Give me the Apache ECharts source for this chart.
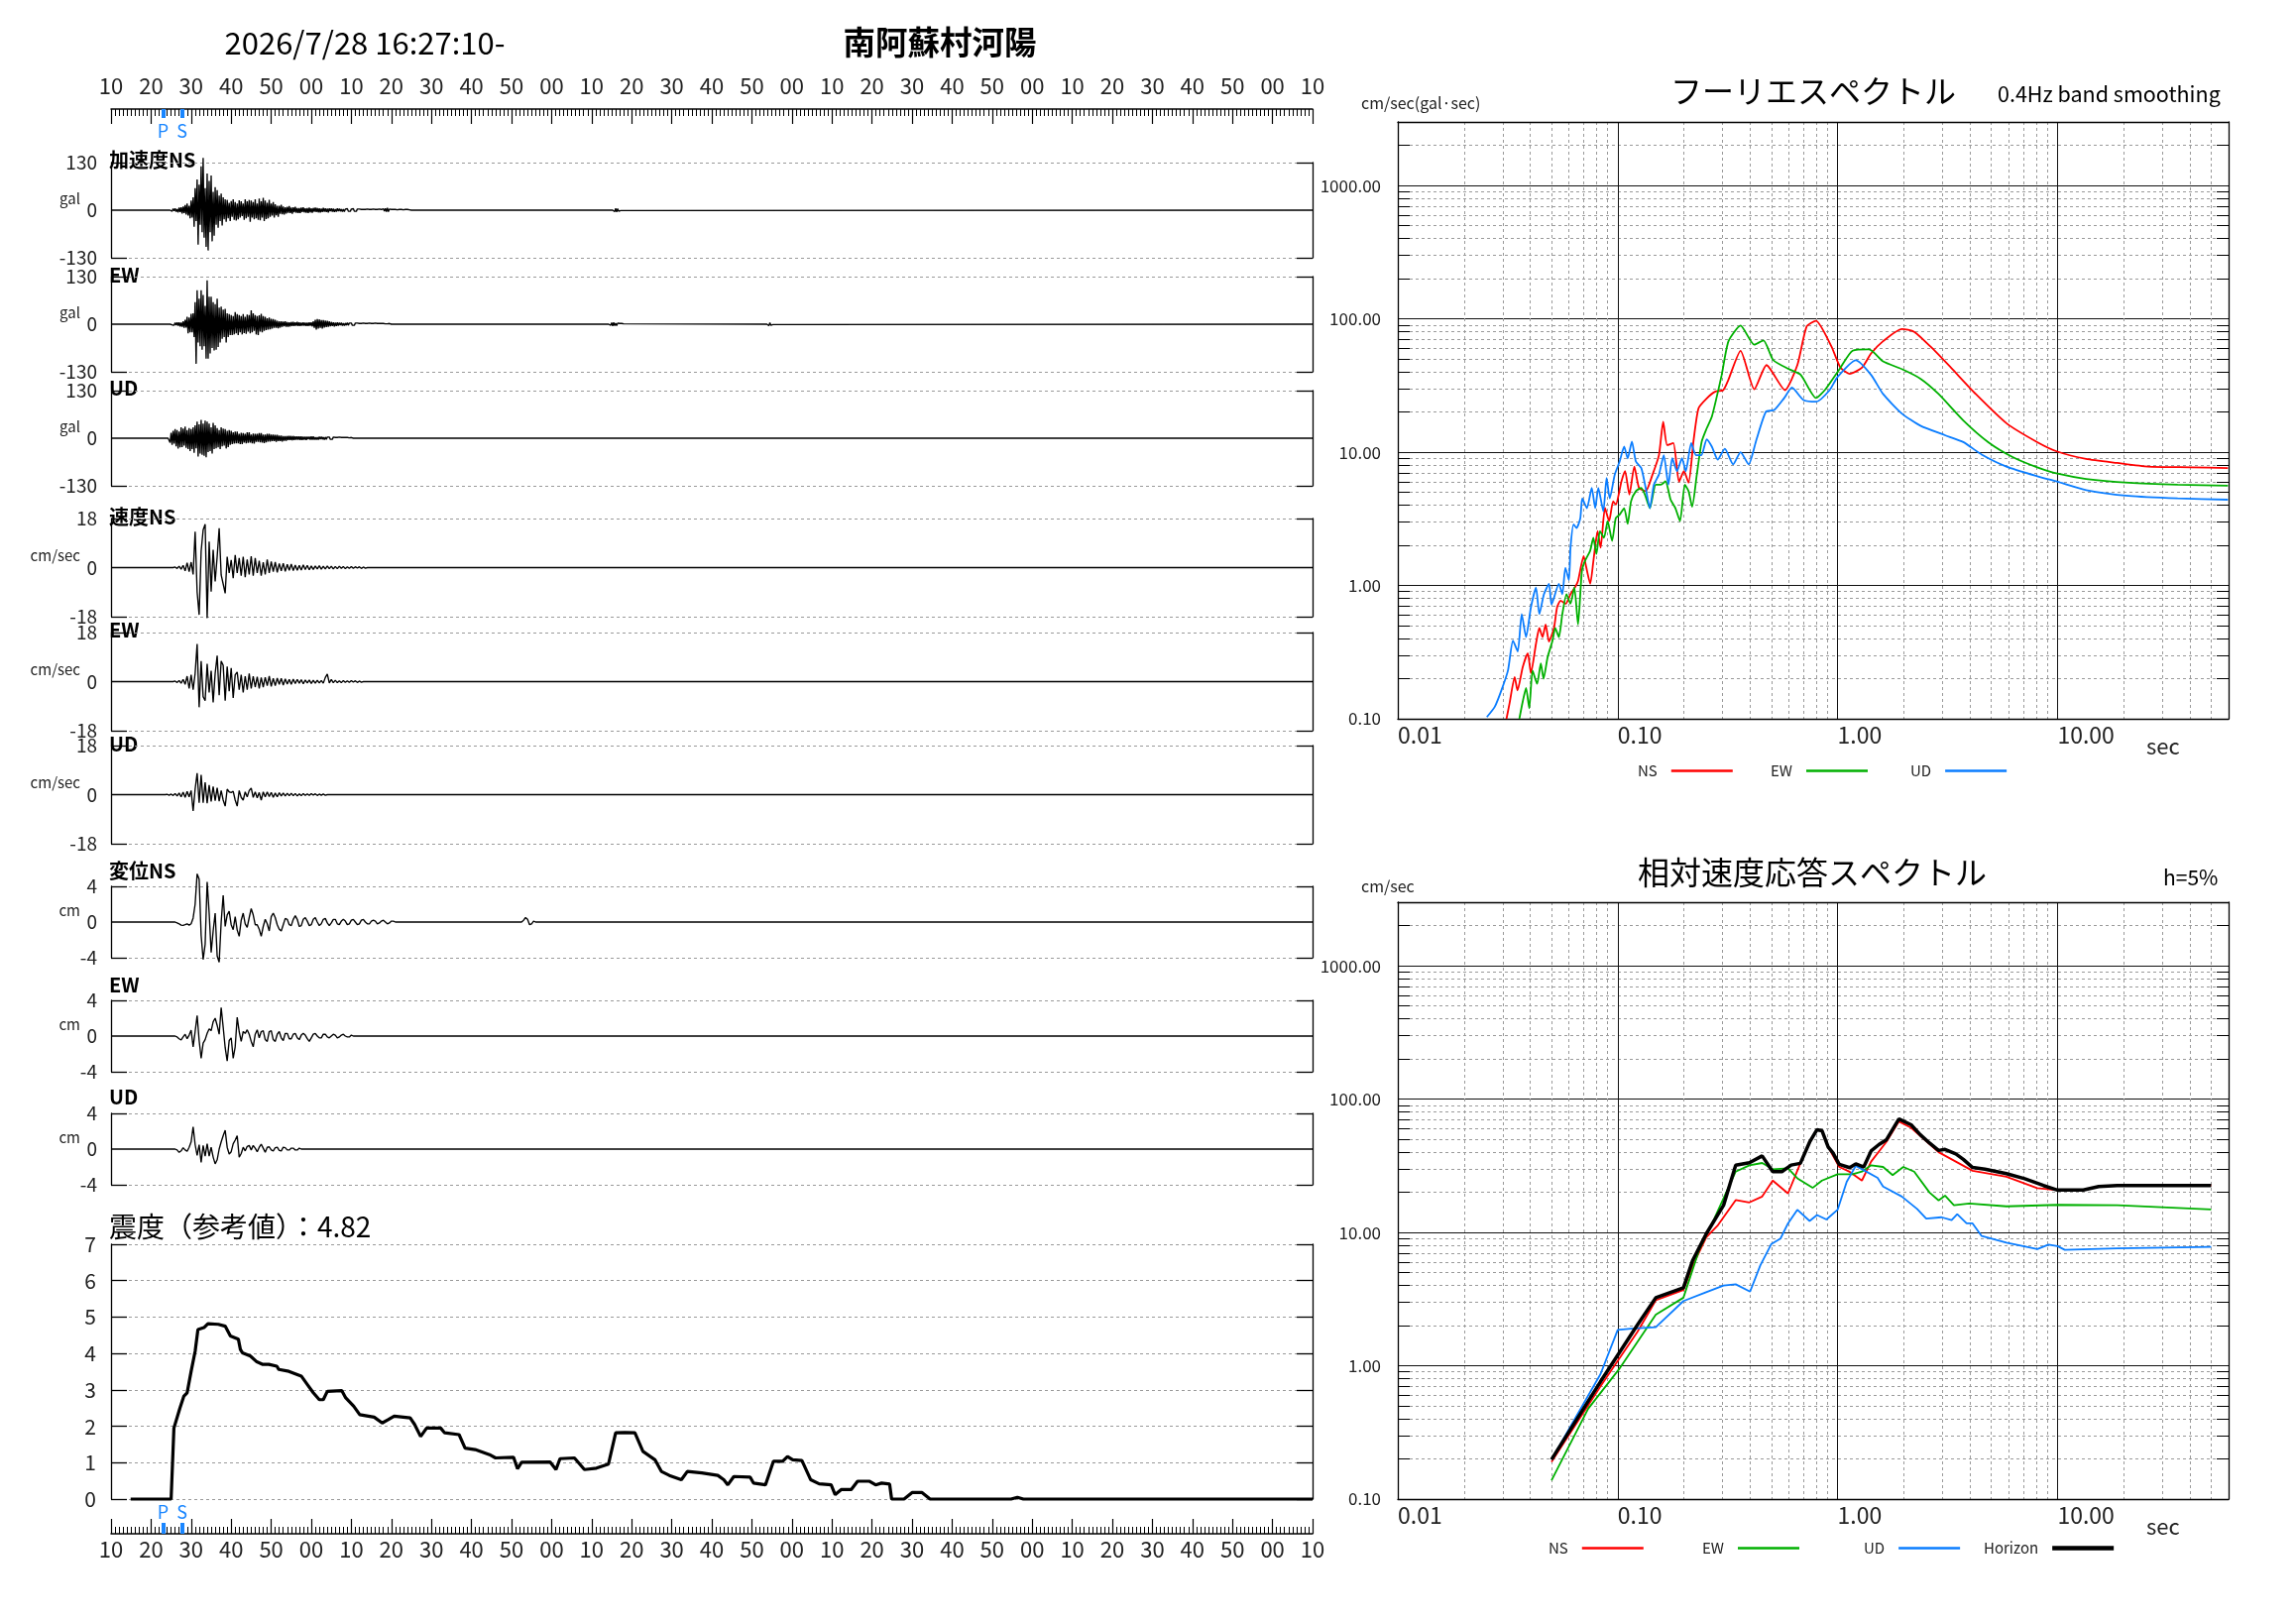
<!DOCTYPE html>
<html><head><meta charset="utf-8">
<script src="https://cdn.jsdelivr.net/npm/echarts@6/dist/echarts.min.js"></script>
<style>html,body{margin:0;padding:0;background:#fff}#c{width:2316px;height:1637px}</style>
</head><body><div id="c"></div>
<script>
// ---------------- DATA ----------------
const startSecond = 10;          // record starts at 16:27:10
const timeSpan = 300;            // seconds shown
const pTime = 13, sTime = 17.7;  // P / S arrival (s from start)
const accStep = 0.25;            // sample step of acceleration traces (s)
const step = 0.5;                // sample step of velocity / displacement traces (s)

const accScale = 130, velScale = 18, dispScale = 4;

const accNS_t0 = 15;
const accNS = [2,-3,4,-2, 5,-4,3,-6, 7,-5,8,-9, 10,-8,14,-12, 18,-15,12,-22, 26,-20,35,-45, 60,-30,84,-94, 70,-40,120,-60, 143,-75,60,-100, 100,-110,80,-60, 95,-85,50,-70, 63,-40,55,-48, 40,-30,45,-42, 35,-25,30,-32, 28,-22,20,-30, 25,-18,30,-26, 22,-28,18,-25, 27,-20,24,-16, 18,-26,30,-22, 24,-18,28,-32, 26,-20,22,-25, 30,-22,18,-26, 32,-28,24,-20, 34,-30,26,-24, 20,-22,28,-18, 18,-15,22,-20, 16,-14,12,-18, 12,-10,15,-11, 10,-12,8,-9, 9,-7,11,-8, 7,-10,8,-6, 9,-7,6,-8, 6,-8,7,-5, 8,-6,5,-7, 6,-8,7,-6, 5,-7,6,-4, 7,-5,6,-6, 5,-6,4,-5, 6,-4,5,-5, 4,-6,5,-3, 5,-4,4,-5, 3,-4,5,-3, 4,-3,3,-4, 3,-4,3,-2, 4,-3,2,-3, 3,-2,4,-3, 2,-3,3,-2, 3,-2,2,-3, 2,-3,2,-2, 3,-2,2,-2, 2,-2,3,-2, 2,-1,2,-2, 3,-2,2,-3, 4,-3,5,-4, 6,-4,3,-2, 2,-2,2,-1, 2,-2,1,-2, 2,-1,2,-2, 1,-2,2,-1, 2,-1,1,-2];
const accNS_b1_t0 = 125.5;
const accNS_b1 = [2,-4,5,-5,4,-3,2,-1];

const accEW_t0 = 15;
const accEW = [2,-2,3,-3, 4,-3,5,-4, 5,-6,4,-7, 8,-10,12,-9, 20,-25,18,-22, 28,-22,30,-35, 60,-108,93,-50, 70,-60,93,-70, 80,-60,50,-94, 120,-94,75,-80, 75,-65,60,-72, 55,-70,70,-62, 45,-50,48,-40, 40,-35,42,-50, 30,-35,28,-30, 25,-30,22,-28, 33,-25,28,-30, 25,-22,22,-28, 28,-24,20,-26, 26,-20,25,-25, 38,-22,30,-18, 25,-28,22,-30, 24,-20,28,-22, 22,-18,20,-16, 16,-15,18,-14, 15,-12,14,-10, 12,-10,9,-11, 8,-9,8,-7, 7,-6,8,-7, 6,-7,5,-6, 6,-5,6,-5, 5,-4,6,-5, 5,-5,4,-4, 5,-4,4,-5, 4,-5,5,-4, 5,-6,8,-10, 12,-15,14,-12, 13,-10,11,-12, 11,-9,10,-8, 9,-7,8,-6, 6,-5,5,-6, 4,-5,5,-4, 4,-3,4,-4, 3,-4,3,-3, 4,-3,3,-2, 3,-3,2,-3, 3,-2,3,-2, 2,-3,2,-2, 3,-2,2,-3, 2,-2,3,-2, 2,-2,2,-1, 3,-2,2,-2, 2,-1,2,-2, 2,-2,1,-2, 1,-2,2,-1];
const accEW_b1_t0 = 124.5;
const accEW_b1 = [2,-3,4,-5,5,-4,3,-4,3,-2,2,-3,2,-2,1];
const accEW_b2_t0 = 164;
const accEW_b2 = [3,-4,4,-3,2,-1];

const accUD_t0 = 14.5;
const accUD = [5,-12,15,-18, 20,-15,25,-22, 22,-28,18,-25, 30,-24,26,-20, 32,-26,22,-30, 28,-35,25,-30, 30,-40,35,-28, 45,-50,38,-42, 50,-45,40,-48, 48,-52,45,-38, 40,-35,30,-42, 42,-30,35,-28, 28,-25,22,-30, 30,-22,26,-20, 25,-28,20,-24, 22,-18,20,-16, 16,-15,18,-14, 18,-14,12,-16, 15,-16,14,-12, 12,-14,16,-13, 16,-12,10,-14, 13,-15,12,-10, 12,-10,14,-11, 14,-12,10,-13, 10,-11,12,-9, 12,-9,10,-8, 10,-8,9,-10, 9,-8,7,-8, 7,-9,6,-7, 6,-7,6,-5, 6,-5,6,-6, 6,-5,5,-4, 5,-4,5,-5, 5,-5,4,-4, 4,-5,4,-3, 4,-4,5,-4, 5,-4,3,-4, 3,-4,4,-3, 4,-3,3,-4, 3,-3,3,-2, 3,-3,2,-3, 3,-2,2,-2, 2,-2,3,-2, 2,-2,2,-1, 2,-1,2,-2, 1,-2,2,-1];

const velNS_t0 = 16;
const velNS = [0.2,-0.3,0.5,-0.6,0.8,-1.2,1.8,-1.5,2.0,-2.5,13.2,-9,-17.3,6,13.8,15.9,-18.5,9.5,-8.8,6.5,-5.1,4,14.4,-2.7,-6,-9.4,4,-2,2.8,-3.9,4.6,-2,3.5,-3,4,-3.5,3,-2.5,4.2,-3,3.5,-2,2.5,-3,2,-2.5,3,-2,2.2,-1.5,2,-1.8,1.5,-1.2,1.6,-1.4,1.2,-1,1.3,-1.1,0.9,-1,0.8,-0.9,1,-0.7,0.8,-0.8,0.6,-0.7,0.6,-0.5,0.7,-0.6,0.5,-0.5,0.6,-0.4,0.5,-0.5,0.4,-0.4,0.5,-0.3,0.4,-0.4,0.3,-0.3,0.4,-0.3,0.3,-0.2,0.3,-0.3,0.2,-0.2];

const velEW_t0 = 16;
const velEW = [0.2,-0.3,0.4,-0.6,0.8,-1,2,-2.5,2.5,-3,3,13.8,-9.4,7.5,-5.5,-7,6.5,-4,4,-7.6,3,9.5,-5,7.5,6,-7,5.5,-3.5,5,-6,2.5,3.5,-3,2.5,-4,2,-3,3,-2.5,2,-2,1.8,-2.5,1.5,-2,1.6,-1.5,2,-1.8,1.2,-1.5,1.3,-1,1.2,-1.3,1,-0.9,0.8,-1,0.9,-0.7,0.8,-0.6,0.7,-0.8,0.6,-0.5,0.6,-0.7,0.5,-0.6,0.5,-0.5,0.4,-0.6,1.5,2.8,-0.5,0.8,-0.4,0.5,-0.4,0.3,-0.4,0.4,-0.3,0.3,-0.3,0.4,-0.2,0.3,-0.3,0.2,-0.2];

const velUD_t0 = 14;
const velUD = [0.1,-0.2,0.2,-0.3,0.4,-0.5,0.6,-0.8,0.9,-1,1.2,-0.8,1.5,-6,2,7.9,-3,7.3,-3,4.5,-3.2,3.5,-2.5,3,-2.2,2.5,-2.4,1.5,-2,-4.2,2,1,0.8,1.2,-2,-4.2,1.5,-1,-2,1,-0.8,1.5,2.4,-1,1,-1.2,0.8,-2,1,-0.8,1,-0.7,0.8,-1,0.6,-0.8,0.7,-0.5,0.6,-0.5,0.5,-0.4,0.5,-0.4,0.4,-0.5,0.3,-0.4,0.4,-0.3,0.3,-0.3,0.4,-0.2,0.3,-0.3,0.2,-0.2,0.2,-0.2];

const dispNS_t0 = 16;
const dispNS = [0,-0.1,-0.2,-0.35,-0.37,-0.3,-0.2,-0.35,-0.2,0.45,2.0,5.4,4.8,-1.5,-4.2,-2.5,4.5,1.0,-3.4,-1,1.0,-3.8,-4.5,0,3.0,-0.5,0.8,1.2,-0.3,-0.85,0.6,-0.9,-1.6,0.2,1.0,-0.2,-0.6,0.5,1.5,0.8,-0.3,-0.3,-0.8,-1.6,-0.5,0.3,-0.2,-1.0,0.6,1.0,0.5,-0.3,-0.8,-1.0,-0.3,0.4,0.3,-0.3,-0.4,0.3,0.7,0.3,-0.5,-0.4,0.3,0.5,0.1,-0.4,-0.3,0.3,0.5,0,-0.4,-0.2,0.3,0.4,-0.1,-0.4,-0.1,0.3,0.3,-0.2,-0.3,0.1,0.3,0.1,-0.3,-0.2,0.2,0.3,0,-0.3,-0.2,0.2,0.3,0,-0.2,-0.2,0.1,0.2,0.1,-0.2,-0.1,0.1,0.2,0,-0.2,-0.1,0.1,0.1,0];
const dispNS_b1_t0 = 103;
const dispNS_b1 = [0.2,0.5,0.3,-0.3,-0.2,0.1];

const dispEW_t0 = 16;
const dispEW = [0,-0.1,-0.3,-0.44,-0.1,0.2,-0.3,0.1,0.66,-1.2,0.5,2.3,-0.5,-2.5,-0.8,-0.4,0.3,0.8,0.6,1.6,2.0,1.2,0.2,3.2,1,-1.3,-2.8,-0.5,-0.2,-2.5,-1.2,2.1,0.5,-0.6,0.5,0.3,0.7,0.2,-0.6,-1.2,0.2,0.7,-0.2,0.5,0.6,-0.4,-0.6,0.5,0.6,-0.4,-0.6,0.2,0.5,-0.2,-0.5,0.3,0.3,-0.3,-0.3,0.2,0.3,-0.2,-0.4,0.1,0.3,0.1,-0.3,-0.6,-0.2,0.2,0.3,0,-0.2,-0.2,0.2,0.2,-0.1,-0.2,0,0.2,0.1,-0.2,-0.1,0.1,0.2,0,-0.1,-0.1,0.1,0];

const dispUD_t0 = 16;
const dispUD = [0,-0.1,-0.37,-0.2,0.15,-0.1,-0.25,0.2,0.8,2.5,0.5,-0.7,0.5,-1.5,0.4,-0.8,0.6,-0.8,0.2,-0.9,-1.65,-1.2,0,0.8,1.5,2.1,0.2,-0.55,-0.3,0.6,1.0,1.5,-0.9,-0.5,0.2,-0.2,0.3,0.4,-0.1,0.4,0.1,-0.3,0.2,0.55,0.1,-0.35,0.2,0.25,-0.1,-0.2,0.15,0.2,-0.15,-0.2,0.2,0.15,-0.1,-0.1,0.1,0.1,-0.1,-0.1,0.1,0];

// seismic intensity (time s, value)
const intensity = [[4.9,0],[15,0],[15.7,1.95],[17.2,2.5],[18.2,2.83],[19,2.92],[20,3.51],[21,4.06],[21.7,4.66],[23.2,4.71],[24.2,4.82],[26.8,4.8],[28.5,4.75],[29.8,4.48],[31.8,4.39],[32.3,4.11],[32.8,4.02],[34.8,3.93],[36.4,3.77],[37.9,3.7],[39.4,3.7],[41.4,3.65],[41.9,3.56],[44.4,3.51],[47.5,3.38],[49,3.15],[50.5,2.92],[52,2.73],[53,2.73],[54,2.96],[57.6,2.98],[58.6,2.78],[60.6,2.55],[62.1,2.32],[65.7,2.25],[67.7,2.09],[69.2,2.18],[70.7,2.28],[74.7,2.23],[75.8,2.05],[77.3,1.72],[78.8,1.95],[82.3,1.95],[83.3,1.82],[86.9,1.77],[88.4,1.4],[90.9,1.36],[94.5,1.22],[96,1.13],[100.5,1.15],[101.5,0.83],[102.5,1.01],[109.6,1.02],[111.1,0.81],[112.1,1.11],[115.7,1.13],[118.2,0.81],[121.2,0.85],[124.2,0.96],[126,1.82],[128.3,1.83],[130.8,1.82],[132.8,1.31],[135.8,1.08],[137.4,0.76],[139.4,0.65],[142.4,0.53],[143.9,0.76],[147.5,0.72],[151.5,0.65],[153,0.53],[154,0.39],[155.5,0.62],[159.6,0.6],[160.4,0.44],[163.4,0.39],[165.4,1.04],[167.7,1.04],[168.9,1.17],[170.2,1.08],[172.5,1.06],[174.7,0.53],[176.8,0.42],[179.8,0.39],[180.8,0.12],[182.3,0.26],[184.8,0.26],[186.4,0.49],[189.4,0.49],[190.9,0.39],[192.4,0.44],[194.4,0.41],[194.9,0],[198,0],[200,0.18],[202.5,0.18],[204.5,0],[224.7,0],[226.3,0.05],[227.8,0],[300,0]];

// Fourier spectra (period s, amplitude)
const fourierNS = [[0.0312,0.10],[0.0322,0.13],[0.034,0.206],[0.035,0.163],[0.037,0.245],[0.039,0.31],[0.0403,0.22],[0.0425,0.366],[0.044,0.48],[0.0455,0.41],[0.047,0.51],[0.0487,0.38],[0.0513,0.48],[0.053,0.685],[0.055,0.77],[0.058,0.73],[0.061,0.86],[0.064,0.97],[0.066,1.08],[0.07,1.66],[0.072,1.36],[0.075,1.03],[0.0775,1.52],[0.081,2.56],[0.0836,1.92],[0.0875,3.82],[0.0914,3.04],[0.0953,4.28],[0.098,4.05],[0.104,6.04],[0.108,7.2],[0.113,4.8],[0.119,7.8],[0.125,5.4],[0.134,5.1],[0.144,6.8],[0.154,9.5],[0.161,16.9],[0.168,11.3],[0.179,11.7],[0.19,6.0],[0.2,7.2],[0.21,5.9],[0.221,12],[0.233,21.3],[0.254,25.3],[0.277,28.4],[0.302,29.2],[0.318,34.6],[0.362,57.6],[0.418,29.6],[0.475,45],[0.576,29.2],[0.656,45],[0.723,87.5],[0.797,96.7],[0.935,62.7],[1.03,43.1],[1.135,38.7],[1.29,43],[1.42,55],[1.61,68],[1.96,84],[2.23,80],[2.7,60],[3.28,43],[4.25,27.3],[5.86,16.5],[8.09,11.9],[10,10.1],[13.5,8.9],[18.7,8.3],[25.8,7.8],[40.4,7.7],[59.6,7.6]];
const fourierEW = [[0.0357,0.1],[0.037,0.135],[0.0383,0.17],[0.0396,0.12],[0.041,0.23],[0.043,0.183],[0.0447,0.26],[0.046,0.2],[0.048,0.29],[0.0504,0.38],[0.052,0.48],[0.054,0.41],[0.056,0.61],[0.0585,0.86],[0.061,0.73],[0.0635,0.97],[0.066,0.51],[0.0687,1.28],[0.071,1.53],[0.0749,1.82],[0.0775,2.28],[0.08,1.72],[0.083,2.56],[0.0866,2.28],[0.09,3.04],[0.0943,2.16],[0.098,3.2],[0.102,3.4],[0.107,3.8],[0.111,2.9],[0.115,4.28],[0.121,5.1],[0.128,5.4],[0.133,4.8],[0.14,3.8],[0.149,5.7],[0.157,5.7],[0.165,6.04],[0.174,4.4],[0.183,3.8],[0.192,3.04],[0.202,5.7],[0.21,5.1],[0.218,3.9],[0.229,6.8],[0.241,12],[0.254,15.1],[0.268,18.5],[0.281,25.3],[0.297,37.8],[0.319,68],[0.362,89],[0.418,64],[0.46,69],[0.51,49],[0.6,42],[0.68,38],[0.797,25.5],[0.88,29.6],[1.03,43],[1.17,57.7],[1.39,59],[1.61,48],[1.96,42],[2.38,35.6],[2.88,27.3],[3.73,17.3],[4.84,11.9],[6.25,9.2],[8.09,7.7],[10,6.9],[13.5,6.3],[21.1,5.9],[35.2,5.7],[59.6,5.6]];
const fourierUD = [[0.0254,0.103],[0.0276,0.123],[0.0296,0.164],[0.0317,0.231],[0.0334,0.386],[0.0351,0.32],[0.0366,0.61],[0.0383,0.41],[0.0403,0.686],[0.0425,0.966],[0.044,0.61],[0.0462,0.86],[0.0487,1.03],[0.05,0.72],[0.054,1.03],[0.056,0.86],[0.0578,1.36],[0.06,1.1],[0.061,1.92],[0.063,2.87],[0.065,2.7],[0.0676,3.2],[0.069,4.5],[0.0724,3.8],[0.0762,5.4],[0.079,3.8],[0.0816,5.4],[0.086,3.6],[0.089,6.4],[0.092,4.5],[0.097,6.8],[0.102,8.5],[0.107,11],[0.111,9.0],[0.116,12.0],[0.121,8.5],[0.128,7.6],[0.134,5.4],[0.14,3.8],[0.146,5.7],[0.154,6.8],[0.162,9.5],[0.17,5.7],[0.177,9.0],[0.186,7.2],[0.196,9.0],[0.204,7.2],[0.216,11.7],[0.227,9.5],[0.24,9.5],[0.254,12.5],[0.268,11],[0.285,8.8],[0.307,10.6],[0.335,8.1],[0.362,10],[0.394,8.1],[0.425,12],[0.472,20.1],[0.515,20.7],[0.57,25.3],[0.62,30.5],[0.70,24.6],[0.80,23.9],[0.92,29.2],[1.0,36.7],[1.21,48.9],[1.42,38],[1.61,27.3],[1.96,19.5],[2.38,15.8],[3.08,13.4],[3.73,11.9],[4.52,9.6],[5.86,7.8],[8.09,6.6],[10,6.0],[13.5,5.2],[21.1,4.7],[35.2,4.5],[59.6,4.4]];

// relative velocity response spectra, h=5% (period s, cm/s)
const respNS = [[0.05,0.19],[0.0835,0.70],[0.123,1.8],[0.149,3.1],[0.199,3.7],[0.219,5.6],[0.253,9.2],[0.284,11.2],[0.344,17.5],[0.397,16.8],[0.454,18.6],[0.507,24.5],[0.595,19.6],[0.677,33],[0.746,47.6],[0.806,59],[0.849,58],[0.906,43.8],[1.017,31],[1.135,28.5],[1.29,24.5],[1.42,34],[1.67,48],[1.90,68],[2.16,61],[2.88,40],[4.11,29],[5.86,26.2],[8.09,21.5],[10,20.8],[13.1,20.8],[15.4,22.1],[18.7,22.5],[50,22.5]];
const respEW = [[0.05,0.138],[0.0734,0.476],[0.1013,0.94],[0.149,2.42],[0.199,3.24],[0.234,7.3],[0.275,12.7],[0.344,28.6],[0.397,31.9],[0.454,33.2],[0.507,29.8],[0.595,30.3],[0.656,25.5],[0.77,21.6],[0.849,24.5],[1.0,27.3],[1.17,27.3],[1.29,28.6],[1.42,31.9],[1.61,31],[1.78,26.9],[1.99,31],[2.23,28.6],[2.62,19.9],[2.88,17.4],[3.08,18.9],[3.38,16],[3.97,16.5],[5.86,15.7],[10,16.1],[18.7,16],[50,14.9]];
const respUD = [[0.05,0.198],[0.0835,0.865],[0.1,1.86],[0.115,1.9],[0.149,1.95],[0.199,3.06],[0.249,3.53],[0.303,4.0],[0.344,4.08],[0.40,3.6],[0.445,5.65],[0.50,8.2],[0.55,9.0],[0.595,11.7],[0.656,14.8],[0.746,12.2],[0.806,13.5],[0.89,12.5],[1.0,14.8],[1.1,24],[1.21,31.6],[1.33,29],[1.52,25.7],[1.61,22.1],[1.96,18.6],[2.3,15],[2.53,12.7],[2.97,13],[3.3,12.4],[3.5,13.7],[3.86,11.7],[4.11,11.7],[4.52,9.4],[5.86,8.4],[8.1,7.5],[9.1,8.1],[10,7.9],[10.8,7.4],[18.7,7.6],[50,7.8]];
const respH = [[0.05,0.198],[0.0835,0.76],[0.123,2.03],[0.149,3.24],[0.199,3.85],[0.219,6.15],[0.253,9.8],[0.303,16.0],[0.344,31.9],[0.397,33.3],[0.454,37.5],[0.507,28.6],[0.558,28.6],[0.615,32],[0.677,33],[0.746,47.6],[0.806,59],[0.849,58],[0.906,43.8],[0.953,39.5],[1.017,32.4],[1.135,30.6],[1.21,32.7],[1.315,31],[1.42,40.8],[1.54,45.6],[1.67,49.7],[1.90,71],[2.16,64.2],[2.38,54],[2.62,46.8],[2.88,41.2],[3.08,42],[3.45,38.8],[3.73,35.3],[4.11,30.7],[4.68,29.8],[5.86,27.6],[7.1,25.3],[8.63,22.5],[10,20.8],[13.1,20.8],[15.4,22.1],[18.7,22.5],[50,22.5]];

// log-axis tick values
const periodMajor = [0.01, 0.1, 1, 10];
const periodMinor = [0.02,0.03,0.04,0.05,0.06,0.07,0.08,0.09,0.2,0.3,0.4,0.5,0.6,0.7,0.8,0.9,2,3,4,5,6,7,8,9,20,30,40,50];
const ampMajor = [0.1, 1, 10, 100, 1000];
const ampMinor = [0.2,0.3,0.4,0.5,0.6,0.7,0.8,0.9,2,3,4,5,6,7,8,9,20,30,40,50,60,70,80,90,200,300,400,500,600,700,800,900,2000,3000];

// ---------------- BUILD ----------------
const FONT = "'Noto Sans CJK JP','Noto Sans',sans-serif";
const C_NS = '#ff0000', C_EW = '#00b000', C_UD = '#0a7dff', C_PS = '#1a86ff';
const L = 112, W = 1212;

function trace(t0, vals, dt, bursts) {
  const d = [[0, 0], [t0 - dt, 0]];
  vals.forEach((v, i) => d.push([t0 + i * dt, v]));
  d.push([t0 + vals.length * dt, 0]);
  (bursts || []).forEach(b => {
    d.push([b[0] - dt, 0]);
    b[1].forEach((v, i) => d.push([b[0] + i * dt, v]));
    d.push([b[0] + b[1].length * dt, 0]);
  });
  d.push([timeSpan, 0]);
  return d;
}
const fmtTime = v => String((startSecond + Math.round(v)) % 60).padStart(2, '0');

const panels = [
  {top:164, h:96, A:accScale, d:trace(accNS_t0, accNS, accStep, [[accNS_b1_t0, accNS_b1]]), name:'加速度NS', unit:'gal', ldy:-3},
  {top:279, h:96, A:accScale, d:trace(accEW_t0, accEW, accStep, [[accEW_b1_t0, accEW_b1],[accEW_b2_t0, accEW_b2]]), name:'EW', unit:'gal', ldy:-2},
  {top:394, h:96, A:accScale, d:trace(accUD_t0, accUD, accStep), name:'UD', unit:'gal', ldy:-3},
  {top:523, h:99, A:velScale, d:trace(velNS_t0, velNS, step), name:'速度NS', unit:'cm/sec', ldy:-2},
  {top:638, h:99, A:velScale, d:trace(velEW_t0, velEW, step), name:'EW', unit:'cm/sec', ldy:-3},
  {top:752, h:99, A:velScale, d:trace(velUD_t0, velUD, step), name:'UD', unit:'cm/sec', ldy:-2},
  {top:894, h:72, A:dispScale, d:trace(dispNS_t0, dispNS, step, [[dispNS_b1_t0, dispNS_b1]]), name:'変位NS', unit:'cm', ldy:-16},
  {top:1009, h:72, A:dispScale, d:trace(dispEW_t0, dispEW, step), name:'EW', unit:'cm', ldy:-16},
  {top:1123, h:72, A:dispScale, d:trace(dispUD_t0, dispUD, step), name:'UD', unit:'cm', ldy:-17}
];

const grid = [], xAxis = [], yAxis = [], series = [], graphic = [], legend = [];
const addGrid = g => grid.push(Object.assign({containLabel:false, outerBoundsMode:'none'}, g)) - 1;
const addX = a => xAxis.push(a) - 1;
const addY = a => yAxis.push(a) - 1;
const black = (w) => ({color:'#000', width:w});
const dashed = {color:'#9a9a9a', width:1, type:[3,3]};

function text(t, x, y, fs, align, weight, color) {
  graphic.push({type:'text', x, y, silent:true, style:{text:t, fontSize:fs, fontFamily:FONT,
    fontWeight:weight || 'normal', fill:color || '#111', align:align || 'left', verticalAlign:'middle'}});
}

function rulerAxis(gi, pos, margin) {
  return {gridIndex:gi, type:'value', min:0, max:timeSpan, interval:10, position:pos,
    axisLine:{show:true, onZero:false, lineStyle:black(1.5)},
    axisTick:{show:true, inside:true, length:15, lineStyle:black(1.2)},
    minorTick:{show:true, splitNumber:10, length:7, lineStyle:black(1)},
    axisLabel:{show:true, margin, fontSize:22, color:'#222', formatter:fmtTime, showMinLabel:true, showMaxLabel:true},
    splitLine:{show:false}, minorSplitLine:{show:false}};
}
function psSeries(xi, yi, pos, dist) {
  return {type:'scatter', xAxisIndex:xi, yAxisIndex:yi, data:[], silent:true,
    markLine:{silent:true, animation:false, symbol:['none','none'],
      lineStyle:{color:C_PS, width:4, type:'solid'},
      label:{show:true, position:pos, distance:dist, formatter:'{b}', color:C_PS, fontSize:18},
      emphasis:{disabled:true},
      data:[{name:'P', xAxis:pTime}, {name:'S', xAxis:sTime}]}};
}

// top time ruler
let g = addGrid({left:L, top:110, width:W, height:9});
let xi = addX(rulerAxis(g, 'top', 12));
let yi = addY({gridIndex:g, type:'value', min:0, max:1, show:false});
series.push(psSeries(xi, yi, 'start', 4));

// waveform panels
panels.forEach(p => {
  const gi = addGrid({left:L, top:p.top, width:W, height:p.h});
  const x = addX({gridIndex:gi, type:'value', min:0, max:timeSpan, show:false});
  const yl = addY({gridIndex:gi, type:'value', min:-p.A, max:p.A, interval:p.A, position:'left',
    axisLine:{show:true, onZero:false, lineStyle:black(1.3)},
    axisTick:{show:true, inside:true, length:16, customValues:[-p.A, p.A], lineStyle:black(1.3)},
    axisLabel:{show:true, margin:14, fontSize:19, color:'#222', showMinLabel:true, showMaxLabel:true},
    splitLine:{show:true, lineStyle:dashed}});
  addY({gridIndex:gi, type:'value', min:-p.A, max:p.A, interval:p.A, position:'right',
    axisLine:{show:true, onZero:false, lineStyle:black(1.3)},
    axisTick:{show:true, inside:true, length:16, customValues:[-p.A, p.A], lineStyle:black(1.3)},
    axisLabel:{show:false}, splitLine:{show:false}});
  series.push({type:'line', xAxisIndex:x, yAxisIndex:yl, data:p.d, showSymbol:false, clip:false, silent:true,
    lineStyle:{color:'#000', width:1.35}});
  text(p.name, 110, p.top + p.ldy, 20, 'left', 'bold', '#000');
  text(p.unit, 81, p.top + p.h / 2 - 12, 15, 'right', 'normal', '#222');
});

// intensity panel
g = addGrid({left:L, top:1255, width:W, height:257});
xi = addX({gridIndex:g, type:'value', min:0, max:timeSpan, show:false});
yi = addY({gridIndex:g, type:'value', min:0, max:7, interval:1, position:'left',
  axisLine:{show:true, onZero:false, lineStyle:black(1.3)},
  axisTick:{show:true, inside:true, length:16, lineStyle:black(1.3)},
  axisLabel:{show:true, margin:15, fontSize:21, color:'#222'},
  splitLine:{show:true, lineStyle:dashed}});
addY({gridIndex:g, type:'value', min:0, max:7, interval:1, position:'right',
  axisLine:{show:true, onZero:false, lineStyle:black(1.3)},
  axisTick:{show:true, inside:true, length:16, lineStyle:black(1.3)},
  axisLabel:{show:false}, splitLine:{show:false}});
series.push({type:'line', xAxisIndex:xi, yAxisIndex:yi, data:intensity, showSymbol:false, clip:false, silent:true,
  lineStyle:{color:'#000', width:3.2}});
text('震度（参考値）：4.82', 110, 1237, 28, 'left', 'normal', '#000');

// bottom time ruler
g = addGrid({left:L, top:1536, width:W, height:11});
xi = addX(rulerAxis(g, 'bottom', 5));
yi = addY({gridIndex:g, type:'value', min:0, max:1, show:false});
series.push(psSeries(xi, yi, 'end', 2));

// spectrum charts
function spectrum(top) {
  const gi = addGrid({left:1410, top, width:838, height:602});
  const xm = addX({gridIndex:gi, type:'log', logBase:10, min:0.01, max:60, position:'bottom',
    axisLine:{show:true, onZero:false, lineStyle:black(1.3)},
    axisTick:{show:false, customValues:periodMajor},
    axisLabel:{show:true, customValues:periodMajor, formatter:v => Number(v).toFixed(2), align:'left', margin:5, fontSize:23, color:'#222'},
    splitLine:{show:true, lineStyle:{color:'#111', width:1}}, minorTick:{show:false}, minorSplitLine:{show:false}});
  addX({gridIndex:gi, type:'log', logBase:10, min:0.01, max:60, position:'top',
    axisLine:{show:true, onZero:false, lineStyle:black(1.3)},
    axisTick:{show:false, customValues:periodMinor}, axisLabel:{show:false},
    splitLine:{show:true, lineStyle:dashed}, minorTick:{show:false}, minorSplitLine:{show:false}});
  const ym = addY({gridIndex:gi, type:'log', logBase:10, min:0.1, max:3000, position:'left',
    axisLine:{show:true, onZero:false, lineStyle:black(1.3)},
    axisTick:{show:false, customValues:ampMajor},
    axisLabel:{show:true, customValues:ampMajor, formatter:v => Number(v).toFixed(2), margin:17, fontSize:17, color:'#222'},
    splitLine:{show:true, lineStyle:{color:'#111', width:1}}, minorTick:{show:false}, minorSplitLine:{show:false}});
  addY({gridIndex:gi, type:'log', logBase:10, min:0.1, max:3000, position:'right',
    axisLine:{show:true, onZero:false, lineStyle:black(1.3)},
    axisTick:{show:true, inside:true, length:12, customValues:ampMinor, lineStyle:black(1)},
    axisLabel:{show:false}, splitLine:{show:true, lineStyle:dashed}, minorTick:{show:false}, minorSplitLine:{show:false}});
  addY({gridIndex:gi, type:'log', logBase:10, min:0.1, max:3000, position:'left',
    axisLine:{show:false, onZero:false},
    axisTick:{show:true, inside:true, length:12, customValues:ampMinor, lineStyle:black(1)},
    axisLabel:{show:false}, splitLine:{show:false}, minorTick:{show:false}, minorSplitLine:{show:false}});
  return [xm, ym];
}
const lineS = (name, xa, ya, data, color, w, smooth) => ({name, type:'line', xAxisIndex:xa, yAxisIndex:ya, data,
  showSymbol:false, silent:true, smooth:smooth || false, color, lineStyle:{color, width:w}, itemStyle:{color}});

const [fx, fy] = spectrum(123);
series.push(lineS('NS', fx, fy, fourierNS, C_NS, 1.8, 0.2));
series.push(lineS('EW', fx, fy, fourierEW, C_EW, 1.8, 0.2));
series.push(lineS('UD', fx, fy, fourierUD, C_UD, 1.8, 0.2));
const [rx, ry] = spectrum(910);
series.push(lineS('NS', rx, ry, respNS, C_NS, 1.8));
series.push(lineS('EW', rx, ry, respEW, C_EW, 1.8));
series.push(lineS('UD', rx, ry, respUD, C_UD, 1.8));
series.push(lineS('Horizon', rx, ry, respH, '#000', 3.5));

function leg(name, left, cy, h) {
  legend.push({data:[name], left, top:cy - 9, orient:'horizontal', align:'right', icon:'rect',
    itemWidth:62, itemHeight:h, itemGap:0, padding:0, selectedMode:false,
    textStyle:{fontSize:15, color:'#222', fontFamily:FONT, padding:[0, 9, 0, 0]}});
}
leg('NS', 1652, 779, 2.5); leg('EW', 1786, 779, 2.5); leg('UD', 1927, 779, 2.5);
leg('NS', 1562, 1563, 2.5); leg('EW', 1717, 1563, 2.5); leg('UD', 1880, 1563, 2.5); leg('Horizon', 2001, 1563, 4.5);

// headings
text('2026/7/28 16:27:10-', 368, 43, 31, 'center', 'normal', '#000');
text('南阿蘇村河陽', 948, 43, 32.5, 'center', 'bold', '#000');
text('フーリエスペクトル', 1829, 92, 32, 'center', 'normal', '#000');
text('0.4Hz band smoothing', 2015, 95, 21.5, 'left', 'normal', '#000');
text('cm/sec(gal·sec)', 1373, 104, 16, 'left', 'normal', '#222');
text('相対速度応答スペクトル', 1828, 880, 32, 'center', 'normal', '#000');
text('h=5%', 2182, 885, 21, 'left', 'normal', '#000');
text('cm/sec', 1373, 894, 16, 'left', 'normal', '#222');
text('sec', 2165, 753, 22, 'left', 'normal', '#222');
text('sec', 2165, 1540, 22, 'left', 'normal', '#222');

const chart = echarts.init(document.getElementById('c'), null, {renderer:'canvas'});
chart.setOption({
  animation:false, backgroundColor:'#fff',
  textStyle:{fontFamily:FONT},
  grid, xAxis, yAxis, series, legend, graphic
});
</script></body></html>
